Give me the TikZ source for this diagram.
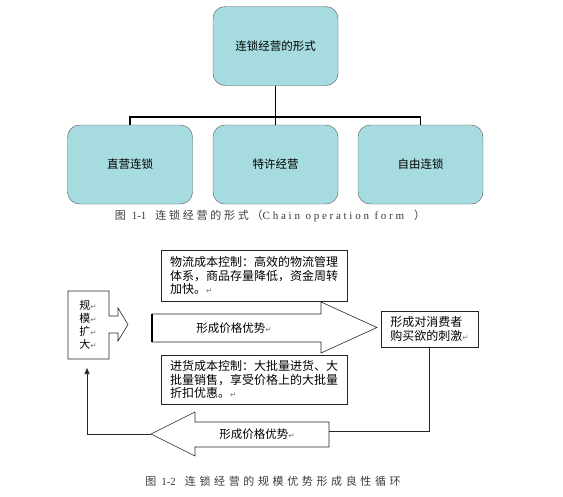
\documentclass[tikz,border=0pt]{standalone}
\usepackage{fontspec}
\setmainfont{Liberation Serif}
\newfontfamily\cjk{Noto Sans CJK SC}
\newfontfamily\capcjk[LetterSpace=25]{Noto Sans CJK SC}
\newfontfamily\caplat[LetterSpace=25]{Liberation Serif}
\newfontfamily\capcjkw[LetterSpace=33]{Noto Sans CJK SC}
\newfontfamily\symfont{DejaVu Sans}
\usepackage{tikz}
\usetikzlibrary{arrows.meta, positioning, calc}
\definecolor{boxfill}{RGB}{166, 220, 224}
\definecolor{boxedge}{RGB}{85, 85, 85}
\definecolor{captext}{RGB}{60, 60, 60}
\newcommand{\retmark}{{\symfont\fontsize{7.5}{7.5}\selectfont\textcolor{black!55}{↵}}}

\begin{document}
\begin{tikzpicture}[x=1pt, y=-1pt,
        orgbox/.style={rectangle, rounded corners=12pt, draw=boxedge, fill=boxfill,
                  minimum width=125pt, minimum height=79pt, font=\cjk\fontsize{11.5}{13}\selectfont},
        tree/.style={line width=1.6pt, black},
        note/.style={rectangle, draw=black!85, line width=0.7pt, fill=white, align=left, inner sep=0pt,
                  minimum width=186pt, minimum height=51pt, font=\cjk\fontsize{12}{13.5}\selectfont},
        flow/.style={draw=black!85, line width=0.6pt, fill=white},
        lbl/.style={inner sep=0pt, align=left, font=\cjk\fontsize{11.5}{13}\selectfont},
        caption/.style={inner sep=0pt, text=captext, font=\fontsize{11}{13}\selectfont}]
    \useasboundingbox[fill=white] (0,0) rectangle (563,496);

    \node[orgbox] (root) at (275.5,46) {连锁经营的形式};
    \node[orgbox] (direct) at (130,164.5) {直营连锁};
    \node[orgbox] (franchise) at (275.5,164.5) {特许经营};
    \node[orgbox] (volunt) at (420.5,164.5) {自由连锁};
    \coordinate (bus) at (275.5,117);
    \draw[tree] (root.south) -- (franchise.north);
    \draw[tree] (direct.north) |- (bus) -| (volunt.north);
    \node[caption] (cap1) at (270,216) {{\capcjk 图}\hspace{6pt}1-1\hspace{9pt}{\capcjk 连锁经营的形式（}{\caplat Chain operation form}\hspace{10pt}{\capcjk ）}};

    \draw[flow] (68,291) -- (109,291) -- (109,316) -- (118,316) -- (118,308) -- (128,324.5)
        -- (118,341) -- (118,333) -- (109,333) -- (109,359) -- (68,359) -- cycle;
    \node[lbl, font=\cjk\fontsize{11}{13}\selectfont] (scale) at (88,324.5) {规\retmark\\模\retmark\\扩\retmark\\大\retmark};
    \coordinate (scaletip) at (87,368);

    \draw[flow] (152,314) -- (321,314) -- (321,302) -- (377,327.5) -- (321,353) -- (321,342) -- (152,342) -- cycle;
    \draw[line width=1.4pt] (152,314) -- (152,342);
    \node[lbl] (adv1) at (234,328) {形成价格优势\retmark};

    \node[note] (logist) at (254,275.5) {物流成本控制：高效的物流管理\\体系，商品存量降低，资金周转\\加快。\retmark};
    \node[note, minimum height=49pt] (purchase) at (254,379.5) {进货成本控制：大批量进货、大\\批量销售，享受价格上的大批量\\折扣优惠。\retmark};
    \node[note, minimum width=97pt, minimum height=36pt, font=\cjk\fontsize{12}{14}\selectfont] (stimul) at (429.5,329) {形成对消费者\\购买欲的刺激\retmark};

    \draw[flow] (151,434) -- (195,412) -- (195,422) -- (329,422) -- (329,447) -- (195,447) -- (195,456) -- cycle;
    \node[lbl] (adv2) at (257,434) {形成价格优势\retmark};
    \coordinate (backR) at (329,431);
    \coordinate (backL) at (151,434);

    \draw[black!85, line width=0.7pt] (stimul.south) |- (backR);
    \draw[black!85, line width=0.7pt, -{Triangle[length=6pt, width=5pt]}] (backL) -| (scaletip);

    \node[caption] (cap2) at (273,481) {{\capcjkw 图}\hspace{5pt}1-2\hspace{9pt}{\capcjkw 连锁经营的规模优势形成良性循环}};
\end{tikzpicture}
\end{document}
